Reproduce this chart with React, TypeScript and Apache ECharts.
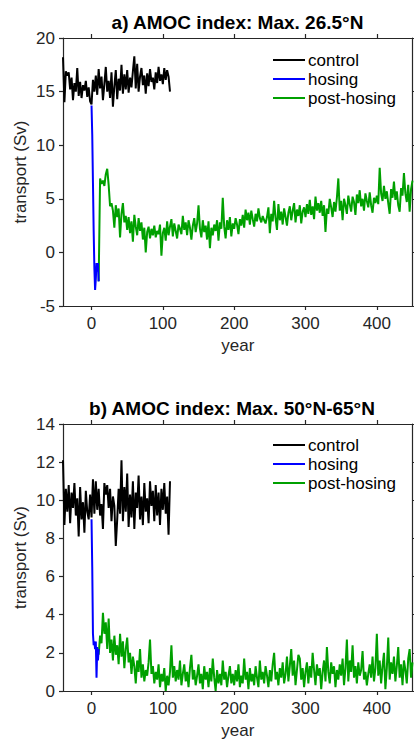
import React, { useEffect, useRef } from "react";
import * as echarts from "echarts";

// ---------- data ----------
const xTickValues = [0, 100, 200, 300, 400];

const controlStart = -40;
const controlStep = 2;
const controlA = [
  18.2, 14.0, 16.9, 16.5, 16.8, 15.2, 16.3, 14.2, 15.8, 15.0,
  17.2, 14.6, 15.9, 14.4, 15.6, 15.1, 16.0, 14.5, 15.4, 14.1,
  13.8, 16.1, 15.0, 16.5, 14.7, 17.1, 15.3, 16.4, 14.2, 15.7,
  17.3, 15.0, 16.0, 14.4, 16.8, 13.6, 15.5, 17.0, 14.3, 16.2,
  15.1, 17.5, 14.8, 16.6, 15.2, 17.0, 14.9, 16.3, 15.4, 16.9,
  18.3, 15.3, 17.6, 15.0, 16.4, 17.2, 15.6, 16.5, 14.8, 16.7,
  15.5, 17.1, 15.9, 16.3, 15.2, 16.8, 15.8, 17.3, 16.0, 16.6,
  15.7, 17.2, 16.1, 17.0, 16.4, 15.0,
];

const hosingStart = 0;
const hosingStep = 1;
const hosingA = [13.7, 11.0, 6.5, 2.0, -1.5, -3.5, -2.5, -1.0, -1.8, -1.0, -2.7];

const postStart = 10;
const postStep = 2;
const postA = [
  -2.7, 6.9, 6.4, 6.7, 6.2, 7.3, 7.8, 6.3, 4.3, 4.6,
  3.9, 2.3, 4.4, 3.3, 4.1, 1.4, 3.6, 4.6, 2.8, 3.4,
  2.1, 3.3, 1.8, 2.9, 1.0, 3.5, 2.4, 1.6, 3.2, 2.0,
  2.8, 1.2, 2.3, 0.0, 1.9, 2.4, 1.3, 2.2, 1.6, 2.5,
  1.4, 2.0, 1.7, 2.6, -0.3, 1.8, 2.3, 1.1, 2.9, 1.6,
  2.4, 3.1, 1.5, 2.7, 2.0, 1.3, 2.6, 2.2, 1.7, 3.4,
  2.1, 2.8, 1.6, 3.0, 2.3, 1.2, 2.5, 3.2, 1.9, 2.7,
  4.4, 2.2, 1.4, 3.0, 1.9, 2.5, 1.2, 2.9, 0.4, 2.3,
  1.6, 2.6, 2.0, 3.0, 1.1, 2.8, 2.2, 5.1, 2.4, 1.3,
  3.0, 2.1, 3.3, 1.5, 2.7, 2.2, 3.2, 2.6, 1.7, 3.1,
  2.5, 3.5, 2.3, 4.0, 3.0, 3.7, 2.6, 3.9, 3.1, 2.4,
  3.6, 2.9, 4.1, 3.2, 2.8, 3.4, 3.0, 2.7, 3.3, 4.2,
  1.8, 3.6, 2.9, 4.8, 3.2, 2.1, 4.5, 3.0, 3.8, 2.6,
  4.1, 3.3, 2.5, 3.7, 4.3, 3.0, 3.9, 4.6, 2.8, 4.0,
  3.4, 4.4, 2.7, 3.8, 4.2, 3.3, 4.5, 3.6, 4.9, 3.5,
  4.3, 3.1, 5.2, 3.9, 4.6, 3.7, 4.8, 3.4, 4.4, 1.9,
  4.1, 3.6, 5.0, 4.2, 3.3, 4.7, 3.8, 5.1, 6.9, 3.9,
  4.8, 3.0, 5.0, 4.4, 3.6, 5.3, 4.5, 3.8, 5.2, 4.7,
  3.5, 5.4, 4.6, 5.8, 4.3, 5.0, 3.9, 5.5, 4.8, 4.2,
  5.6, 4.4, 3.7, 5.1, 4.6, 5.3, 4.5, 7.9, 5.5, 4.8,
  6.2, 5.0, 5.7, 4.6, 3.6, 5.9, 5.1, 6.6, 4.9, 5.7,
  4.4, 3.8, 6.0, 5.3, 7.4, 5.5, 4.7, 6.3, 3.8, 5.9,
  6.7,
];

const controlB = [
  12.1, 8.7, 10.6, 9.4, 10.8, 8.8, 10.4, 9.6, 10.9, 9.2,
  10.1, 8.1, 10.7, 9.0, 9.9, 8.3, 10.5, 9.4, 9.0, 10.3,
  9.1, 11.1, 9.3, 11.0, 9.5, 10.6, 9.2, 9.8, 8.5, 10.9,
  10.3, 10.8, 9.6, 10.6, 8.9, 10.2, 9.7, 7.6, 9.0, 10.6,
  9.3, 12.1, 8.9, 10.7, 9.4, 11.4, 8.6, 10.3, 9.1, 11.0,
  8.5, 10.4, 9.6, 11.3, 9.0, 10.2, 8.7, 10.9, 9.4, 10.1,
  8.8, 11.0, 9.7, 10.5, 8.9, 10.8, 9.2, 10.4, 8.7, 10.6,
  9.5, 10.9, 9.3, 10.2, 8.2, 11.0,
];

const hosingB = [9.0, 6.5, 3.0, 2.4, 2.6, 2.2, 2.6, 0.7, 2.3, 1.6, 2.2];

const postB = [
  1.9, 2.9, 2.5, 4.1, 3.0, 3.6, 2.2, 3.8, 2.0, 2.7,
  1.6, 2.9, 1.9, 2.4, 1.4, 3.0, 1.8, 2.6, 1.2, 2.2,
  2.8, 1.5, 2.0, 0.9, 1.8, 1.3, 0.4, 1.6, 1.0, 2.2,
  0.7, 1.4, 0.5, 1.1, 0.8, 1.5, 2.7, 0.9, 1.3, 0.4,
  1.0, 0.6, 1.4, 0.2, 0.9, 0.5, 1.2, 0.0, 0.8, 0.3,
  1.0, 2.4, 0.7, 1.3, 0.5, 1.1, 0.6, 1.6, 0.3, 0.9,
  1.4, 0.5, 1.0, 0.2, 1.2, 1.9, 0.6, 1.1, 0.3, 0.8,
  1.4, 0.4, 0.9, 0.1, 1.3, 0.6, 1.0, 0.2, 1.2, 0.5,
  1.7, 0.7, 0.0, 1.1, 0.4, 0.9, 0.3, 1.6, 0.6, 1.0,
  0.2, 0.8, 1.3, 0.4, 0.9, 0.3, 1.1, 0.5, 1.4, 0.2,
  0.8, 0.4, 1.7, 0.6, 1.0, 0.1, 1.2, 0.5, 0.9, 0.3,
  1.3, 0.7, 0.2, 1.6, 0.6, 1.0, 0.4, 1.3, 0.8, 0.2,
  1.1, 0.5, 1.4, 2.0, 0.6, 1.0, 0.3, 1.2, 0.7, 1.5,
  0.4, 0.9, 1.8, 0.5, 1.3, 2.2, 0.8, 1.6, 0.3, 1.1,
  1.9, 1.7, 0.6, 1.2, 0.2, 1.0, 1.5, 0.4, 1.3, 0.7,
  2.0, 1.1, 0.3, 1.4, 0.8, 1.2, 0.1, 1.0, 1.6, 0.5,
  2.3, 1.0, 0.4, 1.5, 0.9, 1.3, 0.2, 1.1, 0.6, 1.4,
  0.8, 1.7, 0.3, 1.2, 2.7, 0.5, 1.6, 1.0, 2.4, 0.7,
  1.3, 0.4, 1.5, 0.8, 1.1, 2.1, 0.6, 1.0, 0.3, 0.9,
  1.4, 0.7, 1.8, 0.5, 1.2, 3.0, 0.8, 1.6, 0.4, 1.3,
  2.0, 0.1, 1.2, 2.8, 0.6, 1.5, 0.9, 1.8, 0.5, 1.3,
  2.3, 0.7, 1.4, 0.3, 1.6, 1.1, 0.4, 1.7, 2.2, 0.7,
  1.5,
];

const seriesNames = ["control", "hosing", "post-hosing"];
const seriesColors = ["#000000", "#0000ff", "#00a000"];

// ---------- helpers ----------
const toPairs = (start: number, step: number, vals: number[]) =>
  vals.map((v, i) => [start + step * i, v]);

const FONT = "'Liberation Sans', Arial, Helvetica, sans-serif";
const AXIS_COLOR = "#262626";

export default function App() {
  const ref = useRef<HTMLDivElement>(null);

  useEffect(() => {
    if (!ref.current) return;
    const chart = echarts.init(ref.current, null, { renderer: "svg" });

    const grids = [
      { left: 63, top: 38, width: 349.5, height: 268 },
      { left: 63, top: 424, width: 349.5, height: 267 },
    ];
    const yRanges = [
      { min: -5, max: 20, interval: 5 },
      { min: 0, max: 14, interval: 2 },
    ];

    const lineStyle = { color: AXIS_COLOR, width: 1.2 };
    const tickStyle = { show: true, inside: false, length: 4, lineStyle };

    const xAxis: any[] = [];
    const yAxis: any[] = [];
    [0, 1].forEach((g) => {
      xAxis.push({
        gridIndex: g,
        type: "value",
        position: "bottom",
        min: -40,
        max: 450,
        axisLine: { show: true, onZero: false, lineStyle },
        axisTick: { ...tickStyle, customValues: xTickValues },
        axisLabel: {
          customValues: xTickValues,
          fontSize: 17,
          color: AXIS_COLOR,
          fontFamily: FONT,
          margin: 9,
        },
        splitLine: { show: false },
        name: "year",
        nameLocation: "middle",
        nameGap: 31,
        nameTextStyle: { fontSize: 17, color: AXIS_COLOR, fontFamily: FONT },
      });
      xAxis.push({
        gridIndex: g,
        type: "value",
        position: "top",
        min: -40,
        max: 450,
        axisLine: { show: true, onZero: false, lineStyle },
        axisTick: { ...tickStyle, customValues: xTickValues },
        axisLabel: { show: false, customValues: xTickValues },
        splitLine: { show: false },
      });
      yAxis.push({
        gridIndex: g,
        type: "value",
        position: "left",
        ...yRanges[g],
        axisLine: { show: true, onZero: false, lineStyle },
        axisTick: tickStyle,
        axisLabel: { fontSize: 17, color: AXIS_COLOR, fontFamily: FONT, margin: 8 },
        splitLine: { show: false },
        name: "transport (Sv)",
        nameLocation: "middle",
        nameGap: 34,
        nameMoveOverlap: false,
        nameTextStyle: { fontSize: 17, color: AXIS_COLOR, fontFamily: FONT },
      });
      yAxis.push({
        gridIndex: g,
        type: "value",
        position: "right",
        ...yRanges[g],
        axisLine: { show: true, onZero: false, lineStyle },
        axisTick: tickStyle,
        axisLabel: { show: false },
        splitLine: { show: false },
      });
    });

    const panelData = [
      [toPairs(controlStart, controlStep, controlA), toPairs(hosingStart, hosingStep, hosingA), toPairs(postStart, postStep, postA)],
      [toPairs(controlStart, controlStep, controlB), toPairs(hosingStart, hosingStep, hosingB), toPairs(postStart, postStep, postB)],
    ];

    const series: any[] = [];
    [0, 1].forEach((g) => {
      // draw order: control, post-hosing, hosing (hosing on top)
      [0, 2, 1].forEach((s) => {
        series.push({
          type: "line",
          name: seriesNames[s],
          xAxisIndex: g * 2,
          yAxisIndex: g * 2,
          data: panelData[g][s],
          symbol: "none",
          showSymbol: false,
          lineStyle: { color: seriesColors[s], width: 2 },
          itemStyle: { color: seriesColors[s] },
          z: s === 1 ? 4 : 3,
        });
      });
    });

    const legendBase = {
      orient: "vertical",
      left: 273,
      padding: 0,
      itemGap: 0,
      itemWidth: 32,
      itemHeight: 14,
      selectedMode: false,
      data: seriesNames.map((n) => ({ name: n, icon: "path://M0,6h32v2h-32z" })),
      textStyle: { fontSize: 17, color: "#000", fontFamily: FONT, lineHeight: 19, padding: [0, 0, 0, -2] },
    };

    chart.setOption({
      animation: false,
      backgroundColor: "#fff",
      grid: grids,
      xAxis,
      yAxis,
      series,
      legend: [
        { ...legendBase, top: 50.5 },
        { ...legendBase, top: 435.5 },
      ],
      graphic: [
        {
          type: "text",
          x: 237.5,
          y: 22,
          style: {
            text: "a) AMOC index: Max. 26.5°N",
            align: "center",
            verticalAlign: "middle",
            font: `bold 19px ${FONT}`,
            fill: "#000",
          },
        },
        {
          type: "text",
          x: 232,
          y: 408,
          style: {
            text: "b) AMOC index: Max. 50°N-65°N",
            align: "center",
            verticalAlign: "middle",
            font: `bold 19px ${FONT}`,
            fill: "#000",
          },
        },
      ],
    });

    return () => chart.dispose();
  }, []);

  return (
    <div
      ref={ref}
      style={{ position: "fixed", left: 0, top: 0, width: 414, height: 742, background: "#fff" }}
    />
  );
}
